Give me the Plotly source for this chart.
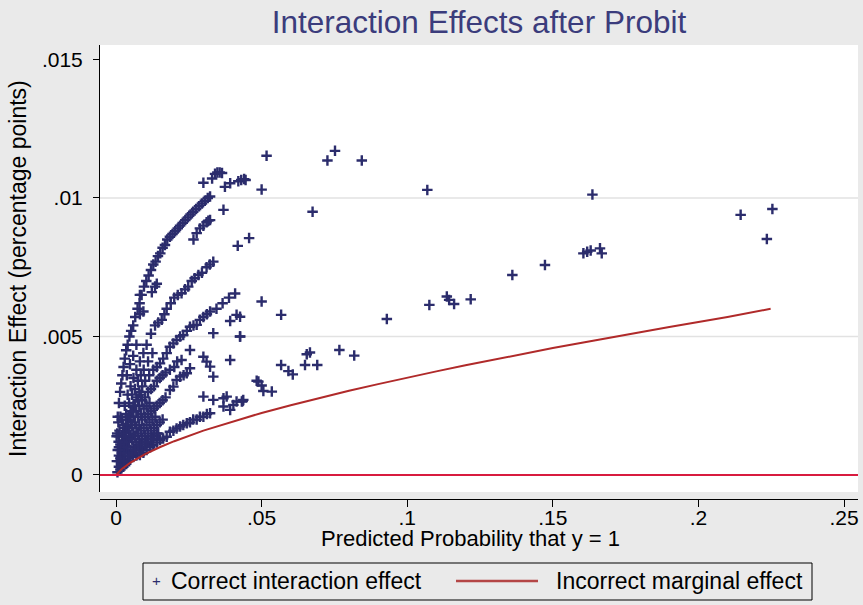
import plotly.graph_objects as go

# ---------------- data ----------------
band_a_x = [0.0002, 0.0006, 0.0010, 0.0014, 0.0018, 0.0022, 0.0026, 0.0030, 0.0035, 0.0040,
            0.0046, 0.0052, 0.0059, 0.0066, 0.0074, 0.0081, 0.0088, 0.0096, 0.0104, 0.0112,
            0.0120, 0.0128, 0.0136, 0.0144, 0.0152, 0.0160, 0.0168, 0.0176, 0.0185, 0.0194,
            0.0203, 0.0212, 0.0220, 0.0229, 0.0238, 0.0247, 0.0256, 0.0265, 0.0275, 0.0285,
            0.0295, 0.0305, 0.0315, 0.0323]
band_a_y = [0.0014, 0.0021, 0.0026, 0.0030, 0.0033, 0.0036, 0.0039, 0.0042, 0.0045, 0.0047,
            0.0050, 0.0052, 0.0054, 0.0057, 0.0060, 0.0062, 0.0065, 0.0068, 0.0070, 0.0072,
            0.0074, 0.0076, 0.0077, 0.0079, 0.0080, 0.0082, 0.0083, 0.0085, 0.0086, 0.0087,
            0.0088, 0.0089, 0.0090, 0.0091, 0.0092, 0.0093, 0.0094, 0.0095, 0.0096, 0.0097,
            0.0098, 0.0099, 0.0100, 0.01005]

band_b_x = [0.0266, 0.0277, 0.0288, 0.0300, 0.0311, 0.0317, 0.0323]
band_b_y = [0.0085, 0.00873, 0.0089, 0.0090, 0.00912, 0.00918, 0.0092]

band_c_x = [0.0010, 0.0020, 0.0030, 0.0040, 0.0050, 0.0060, 0.0070, 0.0082, 0.0094, 0.0105,
            0.0120, 0.0134, 0.0145, 0.0157, 0.0166, 0.0174, 0.0188, 0.0200, 0.0212, 0.0225,
            0.0237, 0.0248, 0.0260, 0.0270, 0.0283, 0.0295, 0.0311, 0.0322, 0.0334]
band_c_y = [0.0014, 0.0020, 0.0025, 0.0029, 0.0032, 0.0035, 0.0038, 0.0041, 0.0044, 0.0047,
            0.0051, 0.0054, 0.0055, 0.0056, 0.0058, 0.0060, 0.0062, 0.0064, 0.0065, 0.00656,
            0.0067, 0.0068, 0.0070, 0.0071, 0.00722, 0.0073, 0.0075, 0.0076, 0.0077]

band_d_x = [0.0010, 0.0020, 0.0030, 0.0040, 0.0050, 0.0060, 0.0070, 0.0080, 0.0090, 0.0100,
            0.0114, 0.0128, 0.0140, 0.0151, 0.0162, 0.0174, 0.0185, 0.0197, 0.0208, 0.0220,
            0.0231, 0.0243, 0.0254, 0.0266, 0.0277, 0.0288, 0.0300, 0.0312, 0.0323, 0.0345,
            0.0366, 0.0388, 0.0409]
band_d_y = [0.0010, 0.0014, 0.0017, 0.0020, 0.0023, 0.0025, 0.0028, 0.0030, 0.0032, 0.0034,
            0.0036, 0.0038, 0.0039, 0.00403, 0.0042, 0.0044, 0.00463, 0.00475, 0.00487, 0.0050,
            0.00505, 0.0052, 0.00535, 0.0054, 0.00542, 0.0056, 0.0057, 0.0058, 0.0059, 0.0060,
            0.0062, 0.0064, 0.00655]

band_g_x = [0.0010, 0.0020, 0.0030, 0.0040, 0.0050, 0.0060, 0.0070, 0.0080, 0.0090, 0.0100,
            0.0110, 0.0120, 0.0130, 0.0140, 0.0150, 0.0160, 0.0170, 0.0185, 0.0200, 0.0210]
band_g_y = [0.0007, 0.0011, 0.0014, 0.0017, 0.0019, 0.0021, 0.0023, 0.0025, 0.0027, 0.0028,
            0.0030, 0.0031, 0.0032, 0.0034, 0.0035, 0.0036, 0.0037, 0.0038, 0.0039, 0.0041]

band_e_x = [0.0010, 0.0020, 0.0030, 0.0040, 0.0050, 0.0060, 0.0070, 0.0080, 0.0090, 0.0100,
            0.0110, 0.0120, 0.0130, 0.0140, 0.0150, 0.0160, 0.0170, 0.0185, 0.0197, 0.0208,
            0.0220, 0.0232, 0.0243, 0.0254]
band_e_y = [0.0005, 0.0008, 0.0010, 0.0012, 0.0014, 0.0015, 0.0017, 0.0018, 0.0020, 0.0021,
            0.0022, 0.0023, 0.0024, 0.0025, 0.0026, 0.0027, 0.0028, 0.00307, 0.00319, 0.00343,
            0.00355, 0.0036, 0.00367, 0.00385]

band_h_x = [0.0010, 0.0020, 0.0030, 0.0040, 0.0050, 0.0060, 0.0070, 0.0080, 0.0090, 0.0100,
            0.0110, 0.0120, 0.0130, 0.0140, 0.0150, 0.0160]
band_h_y = [0.0003, 0.0005, 0.0007, 0.0008, 0.0009, 0.0010, 0.0011, 0.0012, 0.0013, 0.0014,
            0.0015, 0.0016, 0.0017, 0.0018, 0.0019, 0.0020]

band_f_x = [0.0005, 0.0015, 0.0025, 0.0035, 0.0045, 0.0059, 0.0070, 0.0082, 0.0094, 0.0105,
            0.0117, 0.0128, 0.0140, 0.0151, 0.0162, 0.0174, 0.0185, 0.0197, 0.0208, 0.0220,
            0.0231, 0.0243, 0.0254, 0.0265, 0.0277, 0.0288, 0.0300, 0.0312, 0.0323]
band_f_y = [0.0001, 0.0002, 0.0003, 0.0004, 0.0005, 0.00066, 0.0007, 0.00072, 0.0008, 0.0009,
            0.0010, 0.00108, 0.00117, 0.00126, 0.00132, 0.00138, 0.00156, 0.0016, 0.00168, 0.00175,
            0.0018, 0.00187, 0.0019, 0.0020, 0.0020, 0.0021, 0.0021, 0.0022, 0.00223]

# dense core near the origin
core1_x = [0.0020, 0.0030, 0.0040, 0.0050, 0.0060, 0.0070, 0.0080, 0.0090, 0.0100, 0.0110,
           0.0120, 0.0130, 0.0140]
core1_y = [0.0004, 0.0005, 0.0006, 0.0007, 0.0008, 0.0009, 0.0010, 0.0010, 0.0011, 0.0012,
           0.0013, 0.0014, 0.0015]
core2_x = [0.0015, 0.0025, 0.0035, 0.0045, 0.0055, 0.0065, 0.0075, 0.0085, 0.0095, 0.0105,
           0.0115, 0.0125, 0.0135]
core2_y = [0.0006, 0.0008, 0.0010, 0.0012, 0.0013, 0.0014, 0.0015, 0.0016, 0.0017, 0.0018,
           0.0019, 0.0020, 0.0021]
core3_x = [0.0015, 0.0025, 0.0035, 0.0045, 0.0055, 0.0065, 0.0075, 0.0085, 0.0095, 0.0105,
           0.0115]
core3_y = [0.0009, 0.0012, 0.0014, 0.0016, 0.0018, 0.0019, 0.0021, 0.0022, 0.0024, 0.0025,
           0.0026]
core4_x = [0.0015, 0.0025, 0.0035, 0.0045, 0.0055, 0.0065, 0.0075, 0.0085]
core4_y = [0.0011, 0.0015, 0.0018, 0.0021, 0.0023, 0.0025, 0.0027, 0.0029]

fill_x = [0.0003, 0.0006, 0.0009, 0.0012, 0.0004, 0.0008, 0.0015, 0.0025, 0.0035, 0.0045,
          0.0055, 0.0065, 0.0075, 0.0085, 0.0095, 0.0110, 0.0125, 0.0025, 0.0045, 0.0065,
          0.0085, 0.0105, 0.0125, 0.0145]
fill_y = [0.0005, 0.0009, 0.0012, 0.0016, 0.0015, 0.0019, 0.0021, 0.0018, 0.0022, 0.0026,
          0.0029, 0.0031, 0.0034, 0.0036, 0.0038, 0.0041, 0.0044, 0.0005, 0.0007, 0.0009,
          0.0011, 0.0012, 0.0013, 0.0015]

streak_x = [0.0082, 0.0094, 0.0082, 0.0123, 0.0134, 0.0140, 0.0059, 0.0048, 0.0037, 0.0070,
            0.0300, 0.0330, 0.0340, 0.0348, 0.0356, 0.0364, 0.0374, 0.0392, 0.0420, 0.0430,
            0.0440, 0.0445, 0.0369, 0.0418, 0.0457]
streak_y = [0.0058, 0.0059, 0.0065, 0.0066, 0.0068, 0.0069, 0.0043, 0.0040, 0.0036, 0.0047,
            0.01055, 0.0107, 0.01087, 0.01092, 0.01092, 0.0109, 0.0104, 0.01053, 0.0106, 0.01065,
            0.01068, 0.01065, 0.00957, 0.00827, 0.00855]

mid_x = [0.0414, 0.0392, 0.0334, 0.0426, 0.0254, 0.0225, 0.0300, 0.0311, 0.0392, 0.0323,
         0.0334, 0.0300, 0.0334, 0.0369, 0.0369, 0.0392, 0.0403, 0.0432, 0.0380, 0.0414,
         0.0437, 0.0489, 0.0500, 0.0426, 0.0567, 0.0426]
mid_y = [0.00578, 0.00556, 0.00512, 0.0050, 0.00451, 0.00415, 0.00427, 0.00409, 0.00415, 0.00391,
         0.00355, 0.00283, 0.00271, 0.00277, 0.00247, 0.00235, 0.00253, 0.00265, 0.00283, 0.00265,
         0.00271, 0.00337, 0.00626, 0.00571, 0.00578, 0.0050]

far_x = [0.0500, 0.0517, 0.0675, 0.0726, 0.0752, 0.0844, 0.1069, 0.1636, 0.2145, 0.2254,
         0.2235, 0.1605, 0.1618, 0.1630, 0.1662, 0.1668, 0.1473, 0.1361, 0.0930, 0.1076,
         0.1136, 0.1144, 0.1161, 0.1218, 0.0655, 0.0666, 0.0649, 0.0691, 0.0767, 0.0818,
         0.0567, 0.0592, 0.0607, 0.0483, 0.0500, 0.0506, 0.0535, 0.0435]
far_y = [0.0103, 0.01152, 0.0095, 0.01135, 0.0117, 0.01135, 0.01029, 0.01012, 0.00939, 0.0096,
         0.00852, 0.0080, 0.00806, 0.0081, 0.00818, 0.0080, 0.00758, 0.00722, 0.00563, 0.00614,
         0.00644, 0.00632, 0.00617, 0.00634, 0.00436, 0.00442, 0.00397, 0.00397, 0.00451, 0.00431,
         0.00397, 0.00375, 0.00363, 0.0034, 0.00323, 0.00303, 0.00301, 0.00267]

curve_x = [0.0, 0.002, 0.005, 0.010, 0.015, 0.020, 0.030, 0.040, 0.050, 0.060, 0.070, 0.080,
           0.090, 0.100, 0.110, 0.120, 0.130, 0.140, 0.150, 0.160, 0.170, 0.180, 0.190, 0.200,
           0.210, 0.2248]
curve_y = [0.0, 0.00022, 0.00045, 0.00075, 0.001, 0.00122, 0.0016, 0.00193, 0.00224, 0.00252,
           0.00279, 0.00304, 0.00328, 0.00352, 0.00374, 0.00396, 0.00417, 0.00438, 0.00458,
           0.00477, 0.00497, 0.00515, 0.00534, 0.00552, 0.0057, 0.0060]

x_ticks = [0, 0.05, 0.10, 0.15, 0.20, 0.25]
x_ticktext = ['0', '.05', '.1', '.15', '.2', '.25']
y_ticks = [0, 0.005, 0.010, 0.015]
y_ticktext = ['0', '.005', '.01', '.015']
grid_y = [0.005, 0.010]
legend_labels = ['Correct interaction effect', 'Incorrect marginal effect']

# ---------------- figure ----------------
pts_x = (band_a_x + band_b_x + band_c_x + band_d_x + band_g_x + band_e_x + band_h_x
         + band_f_x + core1_x + core2_x + core3_x + core4_x + fill_x + streak_x + mid_x + far_x)
pts_y = (band_a_y + band_b_y + band_c_y + band_d_y + band_g_y + band_e_y + band_h_y
         + band_f_y + core1_y + core2_y + core3_y + core4_y + fill_y + streak_y + mid_y + far_y)

NAVY = '#2b2c6c'
CURVE = '#b02a2a'
FONT = 'Liberation Sans, Arial, sans-serif'

PB = 499   # x-axis line pixel row
PT = 45
PH = PB - PT
PL, PR = 100, 858
PW = PR - PL


def px(xp):
    return (xp - PL) / PW


def py(yp):
    return (PB - yp) / PH


fig = go.Figure()
fig.add_trace(go.Scatter(
    x=pts_x, y=pts_y, mode='markers', name=legend_labels[0], showlegend=False,
    marker=dict(symbol='cross-thin', size=7.5, color=NAVY,
                line=dict(color=NAVY, width=2.4)),
))
fig.add_trace(go.Scatter(
    x=curve_x, y=curve_y, mode='lines', name=legend_labels[1], showlegend=False,
    line=dict(color=CURVE, width=2),
))

annotations = [
    dict(text='+', xref='paper', yref='paper', x=px(156), y=py(580), xanchor='center',
         yanchor='middle', showarrow=False, font=dict(size=15, color=NAVY)),
    dict(text=legend_labels[0], xref='paper', yref='paper', x=px(169), y=py(581), xanchor='left',
         yanchor='middle', showarrow=False, font=dict(size=23, color='black')),
    dict(text=legend_labels[1], xref='paper', yref='paper', x=px(554), y=py(581), xanchor='left',
         yanchor='middle', showarrow=False, font=dict(size=23, color='black')),
    dict(text='Predicted Probability that y = 1', xref='paper', yref='paper',
         x=px(470), y=py(538), xanchor='center', yanchor='middle',
         showarrow=False, font=dict(size=22, color='black')),
    dict(text='Interaction Effect (percentage points)', xref='paper', yref='paper',
         x=px(18), y=py(269), xanchor='center', yanchor='middle',
         textangle=-90, showarrow=False, font=dict(size=23, color='black')),
]

fig.update_layout(
    width=863, height=605,
    margin=dict(l=PL, r=863 - PR, t=PT, b=605 - PB, pad=0, autoexpand=False),
    paper_bgcolor='#eaeaea', plot_bgcolor='white',
    font=dict(family=FONT, color='black'),
    title=dict(text='Interaction Effects after Probit', x=479 / 863, xanchor='center',
               y=1 - 22 / 605, yanchor='middle',
               font=dict(size=31.5, color='#3b3c7c', family=FONT)),
    xaxis=dict(range=[-0.0055, 0.2548], anchor='free', position=0,
               tickvals=x_ticks, ticktext=x_ticktext, showline=True, linecolor='black',
               linewidth=1, ticks='outside', ticklen=7, tickcolor='black',
               showgrid=False, zeroline=False, tickfont=dict(size=21, color='black'),
               ticklabelstandoff=-7),
    yaxis=dict(range=[-0.000614, 0.01552], domain=[7 / PH, 1],
               tickvals=y_ticks, ticktext=y_ticktext, showline=True, linecolor='black',
               linewidth=1, ticks='outside', ticklen=6, tickcolor='black',
               showgrid=False, zeroline=False, tickfont=dict(size=21, color='black'),
               ticklabelstandoff=6),
    showlegend=False,
    annotations=annotations,
)

# gridlines, zero reference line and the hand-drawn legend frame / line key
for g in grid_y:
    fig.add_hline(y=g, line=dict(color='#e2e2e2', width=1.5), layer='below')
fig.add_hline(y=0, line=dict(color='#d81b3f', width=2))
fig.add_shape(type='rect', xref='paper', yref='paper', x0=px(143), x1=px(812),
              y0=py(600), y1=py(563), line=dict(color='black', width=1),
              fillcolor='rgba(0,0,0,0)')
fig.add_shape(type='line', xref='paper', yref='paper', x0=px(456), x1=px(538),
              y0=py(581), y1=py(581), line=dict(color='#b44646', width=2.5))

fig.write_html('out.html', config={'displayModeBar': False},
               post_script="document.body.style.margin='0px';")
